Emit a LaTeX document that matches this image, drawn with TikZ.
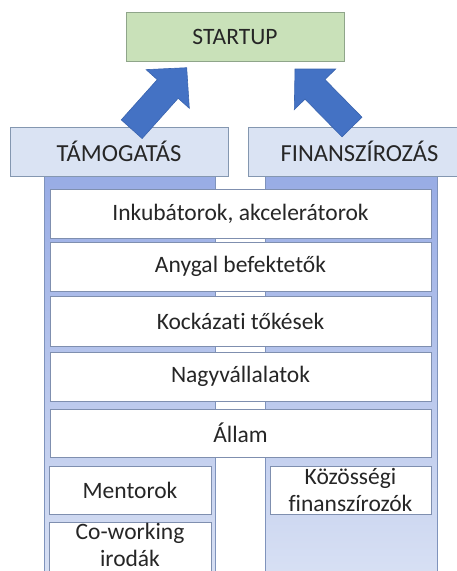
\documentclass[tikz,border=0pt]{standalone}
\usepackage{fontspec}
\setmainfont[Ligatures=NoCommon]{Carlito}
\usetikzlibrary{fit,calc}
\definecolor{txt}{HTML}{262626}
\definecolor{greenfill}{HTML}{C9E1B9}
\definecolor{greenline}{HTML}{8FA58A}
\definecolor{headfill}{HTML}{DAE3F3}
\definecolor{headline}{HTML}{8497B0}
\definecolor{coltop}{HTML}{98ACE5}
\definecolor{colbot}{HTML}{DAE2F4}
\definecolor{colline}{HTML}{7F93BC}
\definecolor{boxline}{HTML}{7F8FAF}
\definecolor{arrowfill}{HTML}{4472C4}
\definecolor{arrowline}{HTML}{3A64AE}
\newcommand\blockarrow[2]{%
  \path ($(#2)!28.5pt!(#1)$) coordinate (ab);
  \filldraw[arrowst] ($(#1)!14pt!90:(#2)$) -- ($(ab)!14pt!90:(#2)$) -- ($(ab)!29pt!90:(#2)$) -- (#2)
    -- ($(ab)!29pt!-90:(#2)$) -- ($(ab)!14pt!-90:(#2)$) -- ($(#1)!14pt!-90:(#2)$) -- cycle;
}
\begin{document}
\begin{tikzpicture}[x=1pt,y=-1pt,
  every node/.style={font=\fontsize{23.5}{27}\selectfont, text=txt, inner sep=0pt, align=center},
  headtext/.style={font=\fontsize{24.5}{27}\selectfont},
  startbox/.style={draw=greenline, fill=greenfill, line width=0.8pt},
  headbox/.style={draw=headline, fill=headfill, line width=0.8pt},
  colbox/.style={draw=colline, line width=0.8pt, shading=axis, top color=coltop, bottom color=colbot},
  whitebox/.style={draw=boxline, fill=white, line width=0.8pt},
  arrowst/.style={fill=arrowfill, draw=arrowline, line width=0.6pt}]
\useasboundingbox (0,0) rectangle (457,571);
\begin{scope}
\clip (0,0) rectangle (457,571);
% columns
\node[colbox, fit={(44,176) (215,590)}] (cl) {};
\node[colbox, fit={(265,176) (437,590)}] (cr) {};
% top box
\node[startbox, fit={(126,12) (344,61)}] (startup) {};
\node at (startup.center) {STARTUP};
% headers
\node[headbox, fit={(10,127) (228,176)}] (hl) {};
\node[headtext] at (hl.center) {TÁMOGATÁS};
\node[headbox, fit={(248,127) (475,176)}] (hr) {};
\node[headtext] at (359.5,151.5) {FINANSZÍROZÁS};
% arrows
\coordinate (a1s) at (131.7,129.2);
\coordinate (a1t) at (186.7,67.7);
\coordinate (a2s) at (352,127);
\coordinate (a2t) at (295,69);
\blockarrow{a1s}{a1t}
\blockarrow{a2s}{a2t}
% white boxes
\node[whitebox, fit={(50,189) (431,238)}] (inkub) {};
\node at (inkub.center) {Inkubátorok, akcelerátorok};
\node[whitebox, fit={(50,242) (431,291)}] (anygal) {};
\node at (anygal.center) {Anygal befektetők};
\node[whitebox, fit={(50,296) (431,346)}] (kock) {};
\node at (kock.center) {Kockázati tőkések};
\node[whitebox, fit={(50,352) (431,401)}] (nagy) {};
\node at (nagy.center) {Nagyvállalatok};
\node[whitebox, fit={(50,409) (431,457)}] (allam) {};
\node at (allam.center) {Állam};
\node[whitebox, fit={(49,466) (211,514)}] (mentor) {};
\node at (mentor.center) {Mentorok};
\node[whitebox, fit={(49,522) (211,573)}] (cowork) {};
\node at ($(cowork.center)+(0,-2.5)$) {Co-working\\irodák};
\node[whitebox, fit={(270,466) (431,514)}] (kozos) {};
\node at (kozos.center) {Közösségi\\finanszírozók};
\end{scope}
\end{tikzpicture}
\end{document}
